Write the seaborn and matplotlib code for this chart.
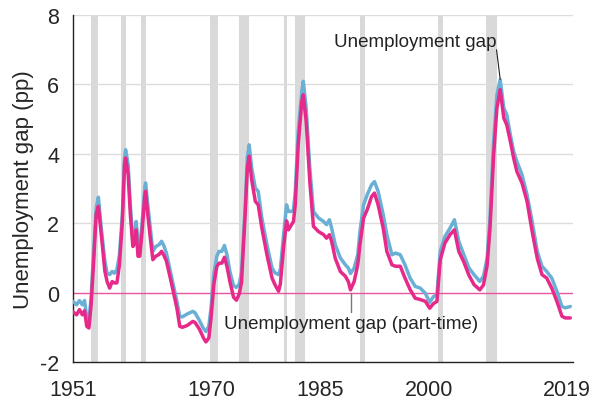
import numpy as np
import pandas as pd
import matplotlib
matplotlib.use("Agg")
import matplotlib.pyplot as plt
import seaborn as sns

# values (decimal years, percentage points)
years = [1951.0, 1951.5, 1951.9, 1952.3, 1952.6, 1952.9, 1953.2, 1953.5, 1953.85, 1954.2,
         1954.5, 1954.9, 1955.4, 1955.7, 1956.05, 1956.4, 1956.7, 1957.05, 1957.4, 1957.8,
         1958.1, 1958.25, 1958.6, 1958.9, 1959.25, 1959.5, 1959.7, 1959.95, 1960.2, 1960.5,
         1960.9, 1961.0, 1961.3, 1961.65, 1962.0, 1962.4, 1962.85, 1963.2, 1963.5, 1963.85,
         1964.4, 1964.8, 1965.3, 1965.7, 1966.05, 1966.7, 1967.5, 1967.8, 1968.4, 1969.0,
         1969.3, 1969.7, 1970.0, 1970.4, 1970.8, 1971.1, 1971.5, 1971.85, 1972.2, 1972.6,
         1973.1, 1973.5, 1973.9, 1974.2, 1974.7, 1975.0, 1975.25, 1975.6, 1976.1, 1976.5,
         1977.0, 1977.7, 1978.4, 1978.8, 1979.3, 1979.55, 1979.97, 1980.4, 1980.66, 1981.1,
         1981.35, 1981.6, 1982.0, 1982.5, 1982.7, 1983.1, 1983.6, 1984.1, 1984.8, 1985.5,
         1985.9, 1986.3, 1986.6, 1987.1, 1987.8, 1988.5, 1988.9, 1989.2, 1989.7, 1990.2,
         1990.5, 1991.0, 1991.5, 1992.1, 1992.5, 1993.0, 1993.7, 1994.2, 1994.9, 1995.4,
         1996.05, 1996.7, 1997.4, 1998.1, 1998.8, 1999.5, 2000.1, 2000.6, 2001.1, 2001.55,
         2002.2, 2002.9, 2003.5, 2004.1, 2004.8, 2005.5, 2006.2, 2007.0, 2007.5, 2008.0,
         2008.4, 2008.9, 2009.35, 2009.8, 2010.3, 2010.7, 2011.2, 2011.65, 2012.1, 2012.8,
         2013.5, 2014.2, 2014.9, 2015.55, 2016.2, 2016.9, 2017.6, 2018.3, 2018.75, 2019.45]

gap = [-0.25, -0.35, -0.23, -0.35, -0.23, -0.73, -0.80, -0.16, 1.19, 2.44,
       2.75, 1.86, 0.90, 0.56, 0.52, 0.61, 0.56, 0.66, 1.09, 2.25,
       3.88, 4.12, 3.69, 2.53, 1.48, 1.67, 2.05, 1.48, 1.28, 1.96,
       3.06, 3.16, 2.53, 1.86, 1.19, 1.33, 1.38, 1.48, 1.36, 1.15,
       0.61, 0.23, -0.25, -0.68, -0.70, -0.62, -0.54, -0.58, -0.80, -1.05,
       -1.12, -0.97, -0.45, 0.55, 1.05, 1.19, 1.19, 1.36, 1.09, 0.61,
       0.20, 0.15, 0.25, 0.60, 2.44, 3.88, 4.26, 3.59, 3.01, 2.92,
       2.15, 1.38, 0.71, 0.57, 0.52, 0.68, 1.62, 2.53, 2.34, 2.34,
       2.39, 2.92, 4.65, 5.80, 6.09, 5.32, 3.59, 2.34, 2.15, 2.05,
       1.96, 2.10, 1.86, 1.38, 1.00, 0.80, 0.71, 0.55, 0.71, 1.09,
       1.76, 2.53, 2.82, 3.11, 3.20, 2.92, 2.25, 1.67, 1.09, 1.14,
       1.09, 0.80, 0.42, 0.18, 0.13, -0.02, -0.28, -0.12, -0.05, 1.19,
       1.62, 1.86, 2.10, 1.48, 1.09, 0.71, 0.52, 0.32, 0.47, 0.99,
       2.15, 4.36, 5.70, 6.14, 5.32, 5.13, 4.55, 4.07, 3.78, 3.40,
       2.82, 2.05, 1.19, 0.76, 0.61, 0.42, 0.04, -0.40, -0.44, -0.40]

gap_pt = [-0.55, -0.64, -0.49, -0.64, -0.52, -0.97, -1.02, -0.35, 0.90, 2.25,
          2.49, 1.67, 0.61, 0.32, 0.13, 0.32, 0.28, 0.28, 0.80, 2.05,
          3.69, 3.88, 3.40, 2.25, 1.33, 1.43, 1.81, 1.05, 1.05, 1.72,
          2.82, 2.92, 2.25, 1.57, 0.95, 1.05, 1.10, 1.19, 1.08, 0.92,
          0.42, 0.04, -0.44, -0.97, -1.00, -0.95, -0.83, -0.86, -1.05, -1.32,
          -1.42, -1.31, -0.75, 0.25, 0.75, 0.85, 0.85, 1.02, 0.75, 0.32,
          -0.13, -0.22, -0.03, 0.30, 2.25, 3.59, 3.93, 3.25, 2.63, 2.53,
          1.86, 1.09, 0.42, 0.23, 0.04, 0.25, 1.26, 2.07, 1.81, 1.96,
          2.05, 2.53, 4.26, 5.51, 5.70, 4.93, 3.20, 1.91, 1.76, 1.67,
          1.57, 1.67, 1.48, 0.99, 0.61, 0.47, 0.32, 0.08, 0.32, 0.80,
          1.38, 2.15, 2.39, 2.77, 2.87, 2.53, 1.86, 1.19, 0.80, 0.76,
          0.76, 0.42, 0.09, -0.16, -0.20, -0.25, -0.45, -0.32, -0.25, 0.95,
          1.43, 1.67, 1.81, 1.19, 0.88, 0.50, 0.23, 0.08, 0.22, 0.78,
          1.86, 3.97, 5.32, 5.85, 5.03, 4.84, 4.36, 3.88, 3.49, 3.16,
          2.63, 1.76, 0.99, 0.52, 0.42, 0.13, -0.25, -0.68, -0.73, -0.73]

# recession periods (start, end)
rec_start = [1953.5, 1957.6, 1960.3, 1969.9, 1973.9, 1980.0, 1981.5, 1990.5, 2001.2, 2007.85]
rec_end = [1954.4, 1958.3, 1961.1, 1970.9, 1975.2, 1980.5, 1982.9, 1991.2, 2001.9, 2009.3]

xticks = [1951, 1970, 1985, 2000, 2019]
yticks = [-2, 0, 2, 4, 6, 8]

df = pd.DataFrame({"year": years, "gap": gap, "gap_pt": gap_pt})

sns.set_style("white")
plt.rcParams["font.family"] = ["Liberation Sans", "DejaVu Sans"]
plt.rcParams["axes.unicode_minus"] = False

fig = plt.figure(figsize=(5.93, 4.02), dpi=100)
ax = fig.add_axes([0.123, 0.097, 0.843, 0.863])

for s, e in zip(rec_start, rec_end):
    ax.axvspan(s, e, color="#d9d9d9", lw=0, zorder=0)

for y in [2, 4, 6, 8]:
    ax.axhline(y, color="#dcdcdc", lw=1, zorder=1)
ax.axhline(0, color="#e8559d", lw=1.0, zorder=1)

sns.lineplot(data=df, x="year", y="gap", color="#6aafd6", lw=2.5, ax=ax, zorder=3)
sns.lineplot(data=df, x="year", y="gap_pt", color="#e7298a", lw=2.5, ax=ax, zorder=4)

ax.set_xlim(1951, 2019.8)
ax.set_ylim(-2, 8)
ax.set_xticks(xticks)
ax.set_yticks(yticks)
ax.tick_params(axis="both", labelsize=15.5, length=5, width=1, color="#333333", pad=5)
ax.tick_params(axis="x", pad=7)
ax.set_xlabel("")
ax.set_ylabel("Unemployment gap (pp)", fontsize=16, labelpad=4)

for side in ["top", "right"]:
    ax.spines[side].set_visible(False)
for side in ["left", "bottom"]:
    ax.spines[side].set_color("#222222")
    ax.spines[side].set_linewidth(1)

ax.plot([2009.3, 2009.8], [7.0, 6.15], color="#222222", lw=0.8, zorder=5)
ax.text(2009.3, 7.25, "Unemployment gap", fontsize=13.5, ha="right", va="center", color="#222222")

ax.plot([1989.3, 1989.3], [0.0, -0.55], color="#777777", lw=1, zorder=5)
ax.text(1971.8, -0.9, "Unemployment gap (part-time)", fontsize=13.5, ha="left", va="center", color="#222222")

fig.savefig("out.png", dpi=100)
